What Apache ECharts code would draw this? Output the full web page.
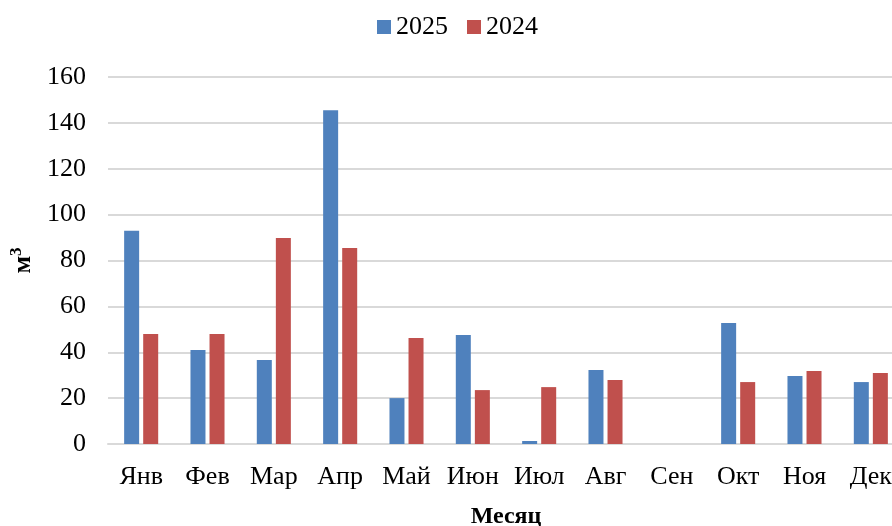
<!DOCTYPE html>
<html>
<head>
<meta charset="utf-8">
<script src="https://cdn.jsdelivr.net/npm/echarts@6/dist/echarts.min.js"></script>
<style>
html,body{margin:0;padding:0;background:#fff;}
#chart{width:892px;height:526px;}
</style>
</head>
<body>
<div id="chart"></div>
<script>
var categories = ['Янв','Фев','Мар','Апр','Май','Июн','Июл','Авг','Сен','Окт','Ноя','Дек'];
var values2025 = [93, 41, 36.6, 145.5, 20, 47.5, 1.3, 32.3, 0, 52.8, 29.7, 27];
var values2024 = [48, 48, 89.8, 85.4, 46.2, 23.5, 24.8, 27.9, 0, 27, 31.8, 31];
var yTicks = {min: 0, max: 160, interval: 20};
var seriesNames = ['2025', '2024'];

var FONT = "'Liberation Serif', 'Times New Roman', serif";
var chart = echarts.init(document.getElementById('chart'), null, {renderer: 'canvas'});
chart.setOption({
  animation: false,
  backgroundColor: '#ffffff',
  textStyle: {fontFamily: FONT},
  color: ['#4F81BD', '#C0504D'],
  legend: {
    top: 9,
    left: 372,
    itemWidth: 14,
    itemHeight: 14,
    itemGap: 19,
    icon: 'rect',
    textStyle: {fontFamily: FONT, fontSize: 26, color: '#000'},
    data: seriesNames
  },
  grid: {left: 108, width: 796, top: 77, bottom: 82, containLabel: false, outerBoundsMode: 'none'},
  xAxis: {
    type: 'category',
    data: categories,
    name: 'Месяц',
    nameLocation: 'middle',
    nameGap: 61,
    nameTextStyle: {fontFamily: FONT, fontSize: 24, fontWeight: 'bold', color: '#000'},
    axisLine: {show: true, lineStyle: {color: '#d9d9d9', width: 2}},
    axisTick: {show: false},
    axisLabel: {fontFamily: FONT, fontSize: 26, color: '#000', margin: 20, interval: 0, verticalAlign: 'top', lineHeight: 26},
    splitLine: {show: false}
  },
  yAxis: {
    type: 'value',
    min: yTicks.min,
    max: yTicks.max,
    interval: yTicks.interval,
    name: '{a|м}{b|3}',
    nameLocation: 'middle',
    nameRotate: 90,
    nameGap: 66,
    nameTextStyle: {
      fontFamily: FONT, fontSize: 24, fontWeight: 'bold', color: '#000',
      rich: {
        a: {fontFamily: FONT, fontSize: 26, fontWeight: 'bold', color: '#000', lineHeight: 30},
        b: {fontFamily: FONT, fontSize: 17, fontWeight: 'bold', color: '#000', verticalAlign: 'top', lineHeight: 30, padding: [0, 0, 10, 0]}
      }
    },
    axisLine: {show: false},
    axisTick: {show: false},
    axisLabel: {fontFamily: FONT, fontSize: 26, color: '#000', margin: 22},
    splitLine: {show: true, lineStyle: {color: '#d9d9d9', width: 2}}
  },
  series: [
    {
      name: seriesNames[0],
      type: 'bar',
      data: values2025,
      barWidth: 15,
      barGap: '27%',
      itemStyle: {color: '#4F81BD'}
    },
    {
      name: seriesNames[1],
      type: 'bar',
      data: values2024,
      barWidth: 15,
      barGap: '27%',
      itemStyle: {color: '#C0504D'}
    }
  ]
});
</script>
</body>
</html>
